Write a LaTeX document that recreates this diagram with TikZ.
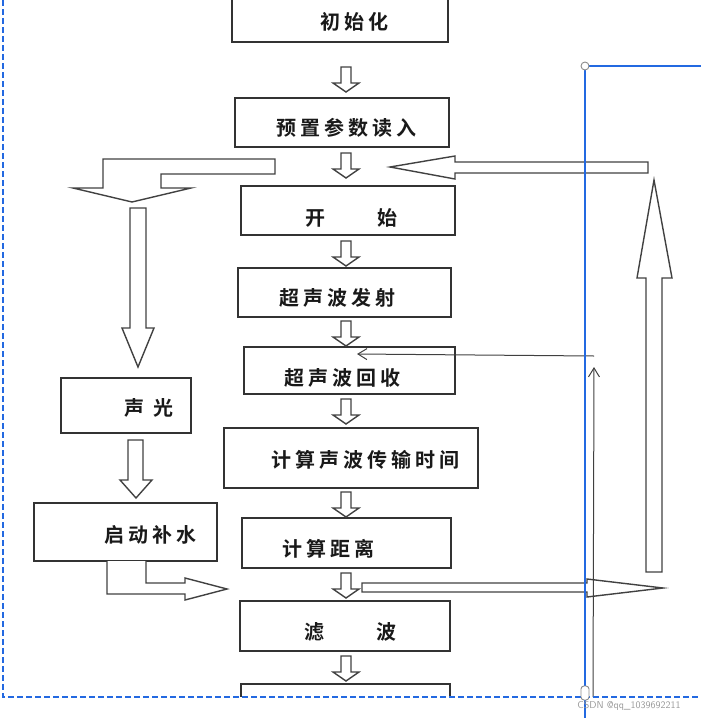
\documentclass[tikz,border=0pt]{standalone}
\usepackage{fontspec}
\usetikzlibrary{arrows.meta}
\newfontfamily\cjk{Noto Sans CJK SC Bold}[LetterSpace=20]
\definecolor{selblue}{RGB}{35,105,225}
\definecolor{linegray}{RGB}{65,65,65}

\begin{document}
\begin{tikzpicture}[x=1pt,y=-1pt]
\tikzstyle{box}=[rectangle, draw=black!80, line width=1.4pt, inner sep=0pt]
\tikzstyle{word}=[inner sep=0pt, font=\cjk\fontsize{20}{24}\selectfont, text=black!90]
\tikzstyle{blk}=[draw=linegray, line width=1.4pt, fill=white, line join=miter]
\tikzstyle{wire}=[draw=black!75, line width=1pt, -{Straight Barb[length=9pt,width=11pt]}]
\tikzstyle{sel}=[draw=selblue, line width=1.3pt]
\tikzset{dnarrow/.pic={\path[blk] (-5,0) -- (5,0) -- (5,16) -- (13,16) -- (0,25) -- (-13,16) -- (-5,16) -- cycle;}}
\useasboundingbox (0,0) rectangle (701,718);
% main column
\node[box, minimum width=216, minimum height=50] (init) at (340,17) {};
\node[box, minimum width=214, minimum height=49] (preset) at (342,122.5) {};
\node[box, minimum width=214, minimum height=49] (start) at (348,210.5) {};
\node[box, minimum width=213, minimum height=49] (emit) at (344.5,292.5) {};
\node[box, minimum width=211, minimum height=47] (recv) at (349.5,370.5) {};
\node[box, minimum width=254, minimum height=60] (ttime) at (351,458) {};
\node[box, minimum width=209, minimum height=50] (dist) at (346.5,543) {};
\node[box, minimum width=210, minimum height=50] (filt) at (345,626) {};
\begin{scope}
\clip (0,0) rectangle (701,696.5);
\node[box, minimum width=209, minimum height=50] (nxt) at (345.5,709) {};
\end{scope}
% side boxes
\node[box, minimum width=130, minimum height=55] (alarm) at (126,405.5) {};
\node[box, minimum width=183, minimum height=58] (water) at (125.5,532) {};
% texts
\node[word] (initT) at (354,22) {初始化};
\node[word] (presetT) at (346,128) {预置参数读入};
\node[word] (startT) at (351,218) {开　　始};
\node[word] (emitT) at (337,298) {超声波发射};
\node[word] (recvT) at (342,378) {超声波回收};
\node[word] (ttimeT) at (365,460) {计算声波传输时间};
\node[word] (distT) at (328,549) {计算距离};
\node[word] (filtT) at (350,632) {滤　　波};
\node[word] (alarmT) at (149,408) {声 光};
\node[word] (waterT) at (150,535) {启动补水};
% small block arrows
\foreach \y in {67,153,241,321,399,492,573,656}
  \pic at (346,\y) {dnarrow};
% big block arrows
\path[blk] (103,159) -- (275,159) -- (275,174) -- (161,174) -- (161,188) -- (191,188) -- (132,202) -- (73,188) -- (103,188) -- cycle;
\path[blk] (130,208) -- (146,208) -- (146,328) -- (154,328) -- (138,367) -- (122,328) -- (130,328) -- cycle;
\path[blk] (128,440) -- (143,440) -- (143,480) -- (152,480) -- (136,498) -- (120,480) -- (128,480) -- cycle;
\path[blk] (107,561) -- (107,594) -- (185,594) -- (185,600) -- (227,589) -- (185,578) -- (185,583) -- (146,583) -- (146,561);
\path[blk] (362,583) -- (587,583) -- (587,579) -- (663,588) -- (587,597) -- (587,592) -- (362,592) -- cycle;
\path[blk] (646,572) -- (646,278) -- (637,278) -- (654,180) -- (672,278) -- (662,278) -- (662,572) -- cycle;
\path[blk] (648,162) -- (455,162) -- (455,156) -- (390,167) -- (455,179) -- (455,173) -- (648,173) -- cycle;
% thin feedback lines
\coordinate (backR) at (594,356);
\coordinate (backL) at (357,354);
\coordinate (feedB) at (593,697);
\coordinate (feedT) at (594,367);
\draw[wire] (backR) -- (backL);
\draw[wire] (feedB) -- (feedT);
% selection frame
\draw[selblue, line width=1.1pt, dash pattern=on 6pt off 3pt] (3,0) -- (3,697) -- (701,697);
\draw[sel] (585,718) -- (585,66) -- (701,66);
\draw[draw=black!45, fill=white, line width=0.9pt] (585,66) circle (4);
\draw[draw=black!45, fill=white, line width=0.9pt, rounded corners=3] (581,686) rectangle (589,700);
\node[font=\sffamily\fontsize{10}{12}\selectfont, text=black!40, inner sep=0pt] (mark) at (629,706) {CSDN @qq\_1039692211};
\end{tikzpicture}
\end{document}
